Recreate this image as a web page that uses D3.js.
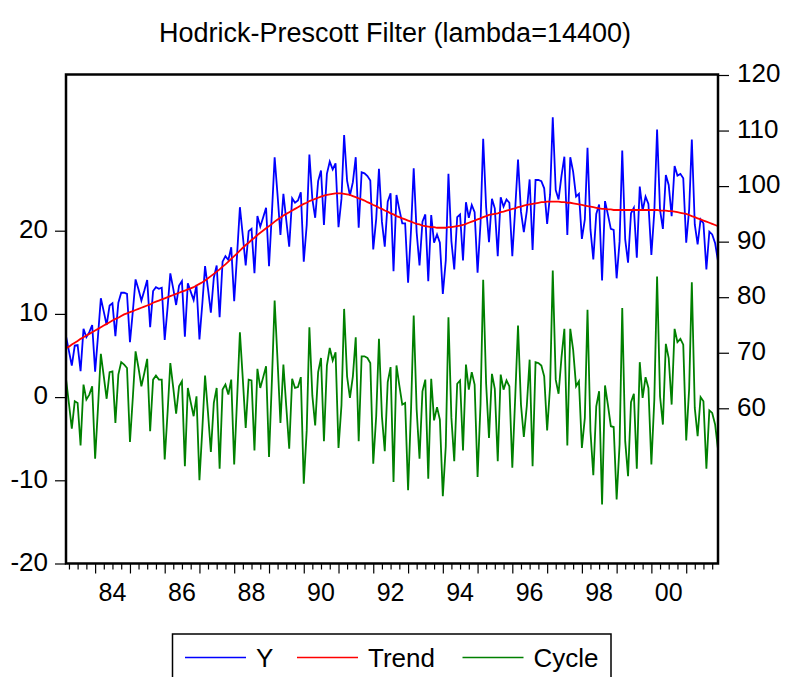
<!DOCTYPE html>
<html>
<head>
<meta charset="utf-8">
<script src="https://cdn.jsdelivr.net/npm/d3@7"></script>
<style>
body { margin: 0; background: #fff; }
text { font-family: "Liberation Sans", Arial, sans-serif; fill: #000; }
</style>
</head>
<body>
<svg id="chart" width="785" height="677"></svg>
<script>
// monthly data, 1983M03 .. 2001M12 (226 obs)
var firstMonth = new Date(1983, 2, 1);

// HP trend (right axis), one row per year
var trend = [
    70.8, 71.1, 71.5, 71.8, 72.1, 72.5, 72.8, 73.1, 73.4, 73.7,
    74.0, 74.3, 74.6, 74.9, 75.2, 75.5, 75.8, 76.1, 76.3, 76.6, 76.9, 77.1,
    77.3, 77.5, 77.7, 77.9, 78.1, 78.3, 78.5, 78.7, 79.0, 79.2, 79.4, 79.6,
    79.8, 80.0, 80.2, 80.4, 80.6, 80.8, 81.0, 81.2, 81.4, 81.6, 81.8, 82.1,
    82.4, 82.7, 83.0, 83.4, 83.8, 84.2, 84.6, 85.0, 85.5, 85.9, 86.4, 86.9,
    87.4, 87.9, 88.4, 88.9, 89.4, 89.8, 90.3, 90.7, 91.2, 91.6, 92.0, 92.4,
    92.8, 93.2, 93.6, 94.0, 94.3, 94.7, 95.0, 95.3, 95.6, 95.9, 96.2, 96.5,
    96.8, 97.0, 97.3, 97.5, 97.7, 97.9, 98.1, 98.3, 98.4, 98.5, 98.6, 98.7,
    98.7, 98.7, 98.6, 98.5, 98.4, 98.2, 98.0, 97.8, 97.6, 97.4, 97.1, 96.9,
    96.6, 96.4, 96.1, 95.9, 95.6, 95.4, 95.1, 94.9, 94.6, 94.4, 94.2, 94.0,
    93.8, 93.6, 93.4, 93.2, 93.1, 92.9, 92.8, 92.7, 92.6, 92.6, 92.5, 92.5,
    92.5, 92.5, 92.6, 92.6, 92.7, 92.8, 92.9, 93.0, 93.2, 93.4, 93.6, 93.8,
    94.0, 94.2, 94.4, 94.6, 94.8, 94.9, 95.0, 95.1, 95.3, 95.4, 95.6, 95.7,
    95.9, 96.0, 96.2, 96.3, 96.5, 96.6, 96.7, 96.8, 96.9, 97.0, 97.1, 97.1,
    97.2, 97.2, 97.2, 97.2, 97.2, 97.1, 97.1, 97.0, 97.0, 96.9, 96.8, 96.7,
    96.6, 96.5, 96.4, 96.3, 96.2, 96.1, 96.0, 95.9, 95.9, 95.8, 95.8, 95.7,
    95.7, 95.7, 95.7, 95.7, 95.7, 95.7, 95.7, 95.7, 95.7, 95.7, 95.7, 95.7,
    95.7, 95.7, 95.7, 95.6, 95.6, 95.6, 95.5, 95.5, 95.4, 95.3, 95.2, 95.1,
    95.0, 94.8, 94.6, 94.4, 94.2, 94.0, 93.8, 93.6, 93.4, 93.2, 93.0, 92.8
];

// cycle (left axis)
var cycle = [
    2.2, -0.8, -3.8, -0.5, -0.7, -5.8, 1.5, -0.3, 0.3, 1.3,
    -7.4, -1.1, 5.2, 2.5, -0.2, 3.0, 3.1, -3.1, 2.7, 4.2, 3.9, 3.5,
    -5.4, 0.1, 5.5, 3.5, 1.3, 2.9, 4.6, -4.1, 2.1, 2.6, 2.1, 2.1,
    -7.5, -1.7, 4.1, 1.1, -2.0, 1.3, 1.9, -8.3, 1.1, -0.6, -2.3, 0.1,
    -10.0, -3.7, 2.6, -1.9, -6.6, -0.7, 1.1, -8.6, 0.9, 1.5, 0.3, 2.1,
    -8.1, -0.1, 7.8, 2.1, -3.7, 2.1, 2.0, -6.4, 3.4, 1.1, 2.4, 3.7,
    -7.2, 2.2, 11.6, 4.3, -3.1, 3.9, -1.1, -6.2, 2.2, 1.1, 1.2, 2.4,
    -10.4, -4.0, 8.4, 0.2, -3.4, 3.0, 4.7, -5.3, 3.8, 5.9, 4.4, 5.4,
    -6.1, -1.0, 10.6, 2.5, -0.1, 2.5, 7.2, -5.3, 4.9, 4.9, 4.7, 4.1,
    -8.0, -2.3, 7.0, -2.3, -6.5, 1.8, 3.6, -10.2, 3.8, 1.4, -0.9, -0.7,
    -11.2, -1.5, 9.8, -1.5, -7.4, 0.7, 2.1, -9.8, 2.2, -2.8, -1.2, -2.7,
    -11.9, -5.9, 9.6, -2.5, -7.7, 1.6, 2.0, -6.4, 3.9, 0.9, 3.0, 1.5,
    -9.6, -0.9, 14.1, 1.6, -4.9, 2.8, 1.0, -7.7, 2.7, 0.9, 2.0, 1.3,
    -8.5, 0.1, 8.6, -0.9, -4.8, -1.1, 4.5, -8.3, 4.2, 4.1, 3.8, 2.5,
    -4.0, 1.3, 15.2, 2.1, 0.4, 4.8, 8.2, -5.8, 8.2, 5.7, 1.3, 1.9,
    -6.1, -2.5, 10.5, -4.1, -9.4, -1.1, 0.7, -12.9, 1.4, -0.9, -3.5, -3.6,
    -12.3, -5.7, 10.7, -5.3, -9.5, -0.6, 0.4, -8.6, 4.2, -0.1, 2.4, 1.1,
    -8.1, -0.3, 14.5, 0.1, -3.3, 6.4, 4.7, -0.9, 8.2, 6.6, 7.0, 6.3,
    -5.2, 1.0, 13.8, -1.3, -4.7, 0.0, -0.5, -8.6, -1.6, -1.9, -3.3, -6.3
];

var leftTicks = [-20, -10, 0, 10, 20];
var rightTicks = [60, 70, 80, 90, 100, 110, 120];
var labelYears = [1984, 1986, 1988, 1990, 1992, 1994, 1996, 1998, 2000];
var labelText = ["84", "86", "88", "90", "92", "94", "96", "98", "00"];
var seriesNames = ["Y", "Trend", "Cycle"];
var seriesColors = ["#0000ff", "#ff0000", "#008000"];

var titleText = "Hodrick-Prescott Filter (lambda=14400)";

// Y = Trend + Cycle (HP decomposition)
var rows = trend.map((t, i) => ({
    date: d3.timeMonth.offset(firstMonth, i),
    trend: t,
    cycle: cycle[i],
    y: t + cycle[i]
}));

var pLeft = 66, pRight = 718, pTop = 74.5, pBottom = 563.5;
var svg = d3.select('#chart');

var x = d3.scaleTime()
        .domain([rows[0].date, rows[rows.length - 1].date])
        .range([pLeft, pRight]);
var yl = d3.scaleLinear().domain([-20, 20]).range([pBottom, 230.7]);
var yr = d3.scaleLinear().domain([60, 120]).range([408.3, 75]);

svg.append('text')
        .attr('x', 395).attr('y', 42)
        .attr('text-anchor', 'middle')
        .style('font-size', '27px')
        .text(titleText);

// axes
var fontSize = '26px';
var gl = svg.append('g')
        .attr('transform', 'translate(' + pLeft + ',0)')
        .call(d3.axisLeft(yl).tickValues(leftTicks).tickSize(11).tickPadding(7)
                .tickFormat(d => String(d)));
var gr = svg.append('g')
        .attr('transform', 'translate(' + pRight + ',0)')
        .call(d3.axisRight(yr).tickValues(rightTicks).tickSize(11).tickPadding(8)
                .tickFormat(d => String(d)));

var quarters = d3.timeMonth.every(3).range(new Date(1983, 3, 1), new Date(2002, 0, 1))
        .filter(d => d.getMonth() !== 0);
var years = d3.timeYear.range(new Date(1984, 0, 1), new Date(2002, 0, 1));
var gq = svg.append('g')
        .attr('transform', 'translate(0,' + pBottom + ')')
        .call(d3.axisBottom(x).tickValues(quarters).tickSize(6).tickFormat(''));
var gy = svg.append('g')
        .attr('transform', 'translate(0,' + pBottom + ')')
        .call(d3.axisBottom(x).tickValues(years).tickSize(10).tickFormat(''));

[gl, gr, gq, gy].forEach(g => {
    g.select('.domain').remove();
    g.selectAll('line').attr('stroke', '#000').attr('stroke-width', 1.2);
    g.selectAll('text')
            .style('font-size', fontSize)
            .attr('font-family', null)
            .attr('dy', '0.26em');
});

svg.append('g').selectAll('text')
        .data(labelYears)
        .enter().append('text')
        .attr('x', d => x(new Date(d, 6, 1)))
        .attr('y', 601)
        .attr('text-anchor', 'middle')
        .style('font-size', '25px')
        .text((d, i) => labelText[i]);

// series
svg.append('clipPath').attr('id', 'plot')
        .append('rect')
        .attr('x', pLeft).attr('y', pTop)
        .attr('width', pRight - pLeft).attr('height', pBottom - pTop);

var lineY = d3.line().x(d => x(d.date)).y(d => yr(d.y));
var lineT = d3.line().x(d => x(d.date)).y(d => yr(d.trend));
var lineC = d3.line().x(d => x(d.date)).y(d => yl(d.cycle));
var gLines = svg.append('g').attr('clip-path', 'url(#plot)');
[lineY, lineT, lineC].forEach((ln, i) => {
    gLines.append('path')
            .datum(rows)
            .attr('d', ln)
            .attr('fill', 'none')
            .attr('stroke', seriesColors[i])
            .attr('stroke-width', 1.8)
            .attr('stroke-linejoin', 'miter');
});

svg.append('rect')
        .attr('x', pLeft).attr('y', pTop)
        .attr('width', pRight - pLeft).attr('height', pBottom - pTop)
        .attr('fill', 'none')
        .attr('stroke', '#000')
        .attr('stroke-width', 2.5);

// legend
var legX = [185, 297, 462.5];
var leg = svg.append('g');
leg.append('rect')
        .attr('x', 172.5).attr('y', 634)
        .attr('width', 438.5).attr('height', 60)
        .attr('fill', '#fff')
        .attr('stroke', '#000')
        .attr('stroke-width', 1.5);
var item = leg.selectAll('g.item')
        .data(seriesNames)
        .enter().append('g')
        .attr('transform', (d, i) => 'translate(' + legX[i] + ',657.5)');
item.append('line')
        .attr('x1', 0).attr('x2', 61)
        .attr('stroke', (d, i) => seriesColors[i])
        .attr('stroke-width', 1.5);
item.append('text')
        .attr('x', 71).attr('y', 9)
        .style('font-size', '26px')
        .text(d => d);
</script>
</body>
</html>
